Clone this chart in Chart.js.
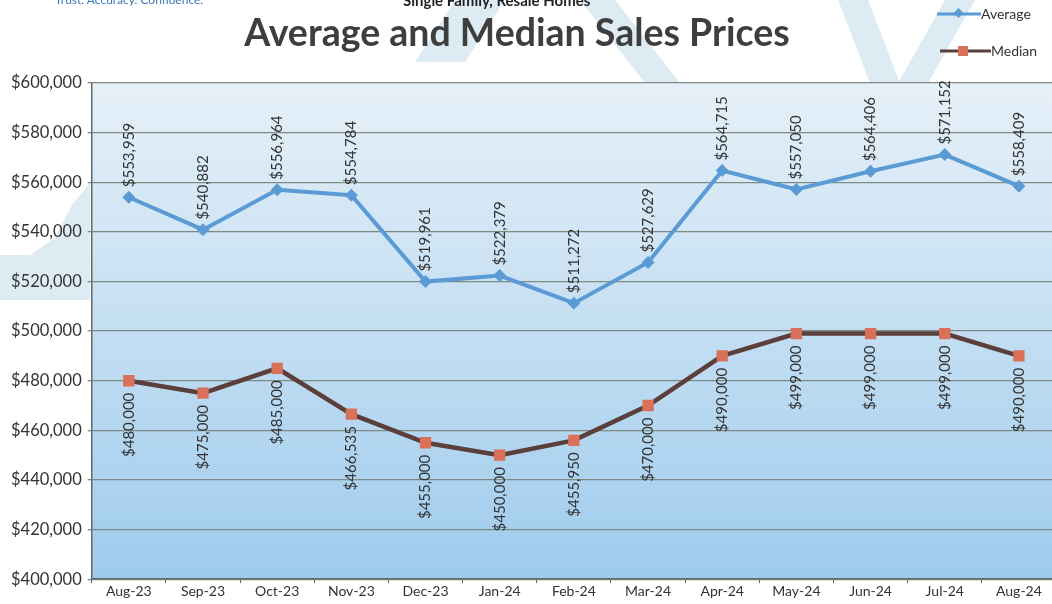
<!DOCTYPE html>
<html>
<head>
<meta charset="utf-8">
<script src="https://cdn.jsdelivr.net/npm/chart.js@4.4.1/dist/chart.umd.min.js"></script>
<style>
  html,body{margin:0;padding:0;background:#fff;overflow:hidden;width:1052px;height:604px}
  .wrap{position:absolute;left:0;top:0;width:1064px;height:604px}
  .title{position:absolute;left:0;width:1034px;top:9px;text-align:center;font:bold 37.5px Lato,sans-serif;color:#3e3e3e;z-index:2}
  .sub{position:absolute;left:403px;top:-9px;font:bold 15px Lato,sans-serif;color:#222;z-index:2}
  .tag{position:absolute;left:55px;top:-8px;font:12px Lato,sans-serif;color:#3b78b8;z-index:2}
  .leg{position:absolute;font:14px Lato,sans-serif;color:#333;display:flex;align-items:center;z-index:2}
</style>
</head>
<body>
<div class="wrap"><canvas id="c" width="1064" height="604"></canvas></div>
<div class="tag">Trust. Accuracy. Confidence.</div>
<div class="sub">Single Family, Resale Homes</div>
<div class="title">Average and Median Sales Prices</div>
<div class="leg" style="left:937px;top:5px">
  <svg width="44" height="14"><line x1="0" y1="7" x2="44" y2="7" stroke="#5b9bd5" stroke-width="3"/><rect x="17" y="2" width="7" height="7" fill="#5b9bd5" transform="rotate(45 20.5 7)"/></svg>Average
</div>
<div class="leg" style="left:940px;top:42px">
  <svg width="51" height="14"><line x1="0" y1="7" x2="51" y2="7" stroke="#5a3f3b" stroke-width="3"/><rect x="18" y="2" width="10" height="10" fill="#d9705a"/></svg>Median
</div>
<script>
const months = ['Aug-23','Sep-23','Oct-23','Nov-23','Dec-23','Jan-24','Feb-24','Mar-24','Apr-24','May-24','Jun-24','Jul-24','Aug-24'];
const averagePrice = [553959,540882,556964,554784,519961,522379,511272,527629,564715,557050,564406,571152,558409];
const medianPrice = [480000,475000,485000,466535,455000,450000,455950,470000,490000,499000,499000,499000,490000];
const yMin = 400000, yMax = 600000, yStep = 20000;

const money = v => '$' + Number(v).toLocaleString('en-US');

// plot background + faint logo watermark
const backdrop = {
  id:'backdrop',
  beforeDraw(chart){
    const {ctx, chartArea:a} = chart;
    ctx.save();
    ctx.fillStyle = '#fff';
    ctx.fillRect(0,0,chart.width,chart.height);
    ctx.fillStyle = 'rgba(180,210,226,0.45)';
    const bands = [
      [[0,255],[30,255],[55,238],[72,205],[90,183],[90,300],[55,300],[0,300]],
      [[415,62],[465,62],[505,0],[455,0]],
      [[580,0],[615,0],[680,83],[645,83]],
      [[838,0],[868,0],[900,83],[870,83]],
      [[898,83],[928,83],[975,0],[945,0]]
    ];
    bands.forEach(p=>{ctx.beginPath();p.forEach(([x,y],i)=>i?ctx.lineTo(x,y):ctx.moveTo(x,y));ctx.closePath();ctx.fill();});
    const g = ctx.createLinearGradient(0,a.top,0,a.bottom);
    g.addColorStop(0,'#e6f0f8');
    g.addColorStop(0.45,'#c7e0f3');
    g.addColorStop(1,'#9ecbed');
    ctx.fillStyle = g;
    ctx.fillRect(a.left,a.top,a.right-a.left,a.bottom-a.top);
    ctx.restore();
  }
};

// vertical value labels: average above, median below
const valueLabels = {
  id:'valueLabels',
  afterDatasetsDraw(chart){
    const ctx = chart.ctx;
    ctx.save();
    ctx.font = '15px Lato, sans-serif';
    ctx.fillStyle = '#333';
    ctx.textBaseline = 'middle';
    chart.data.datasets.forEach((ds,di)=>{
      chart.getDatasetMeta(di).data.forEach((pt,i)=>{
        ctx.save();
        ctx.translate(pt.x, pt.y);
        ctx.rotate(-Math.PI/2);
        if (di===0){ ctx.textAlign='left'; ctx.fillText(money(ds.data[i]), 10, 0); }
        else { ctx.textAlign='right'; ctx.fillText(money(ds.data[i]), -12, 0); }
        ctx.restore();
      });
    });
    ctx.restore();
  }
};

new Chart(document.getElementById('c'), {
  type:'line',
  data:{
    labels:months,
    datasets:[
      { label:'Average', data:averagePrice, borderColor:'#5b9bd5', backgroundColor:'#5b9bd5', borderWidth:4,
        pointStyle:'rectRot', pointRadius:6.5, pointBorderWidth:0, tension:0 },
      { label:'Median', data:medianPrice, borderColor:'#5a3f3b', backgroundColor:'#d9705a', borderWidth:4.5,
        pointStyle:'rect', pointRadius:8, pointBorderWidth:0, tension:0 }
    ]
  },
  options:{
    responsive:false, animation:false,
    layout:{ padding:{ top:83, left:5, right:3, bottom:4 } },
    plugins:{ legend:{ display:false }, tooltip:{ enabled:false } },
    scales:{
      x:{
        offset:true,
        grid:{ offset:true, drawOnChartArea:false, drawTicks:true, tickLength:4, color:'#666' },
        border:{ color:'#666', width:1.5 },
        ticks:{ font:{ family:'Lato', size:14 }, color:'#333', padding:0, maxRotation:0 }
      },
      y:{
        min:yMin, max:yMax,
        grid:{ color:'#7d8b84', lineWidth:1.3, drawTicks:true, tickLength:4 },
        border:{ color:'#666', width:1.5 },
        ticks:{ stepSize:yStep, font:{ family:'Lato', size:16.5 }, color:'#333', padding:6, callback:v=>money(v) }
      }
    }
  },
  plugins:[backdrop, valueLabels]
});
</script>
</body>
</html>
